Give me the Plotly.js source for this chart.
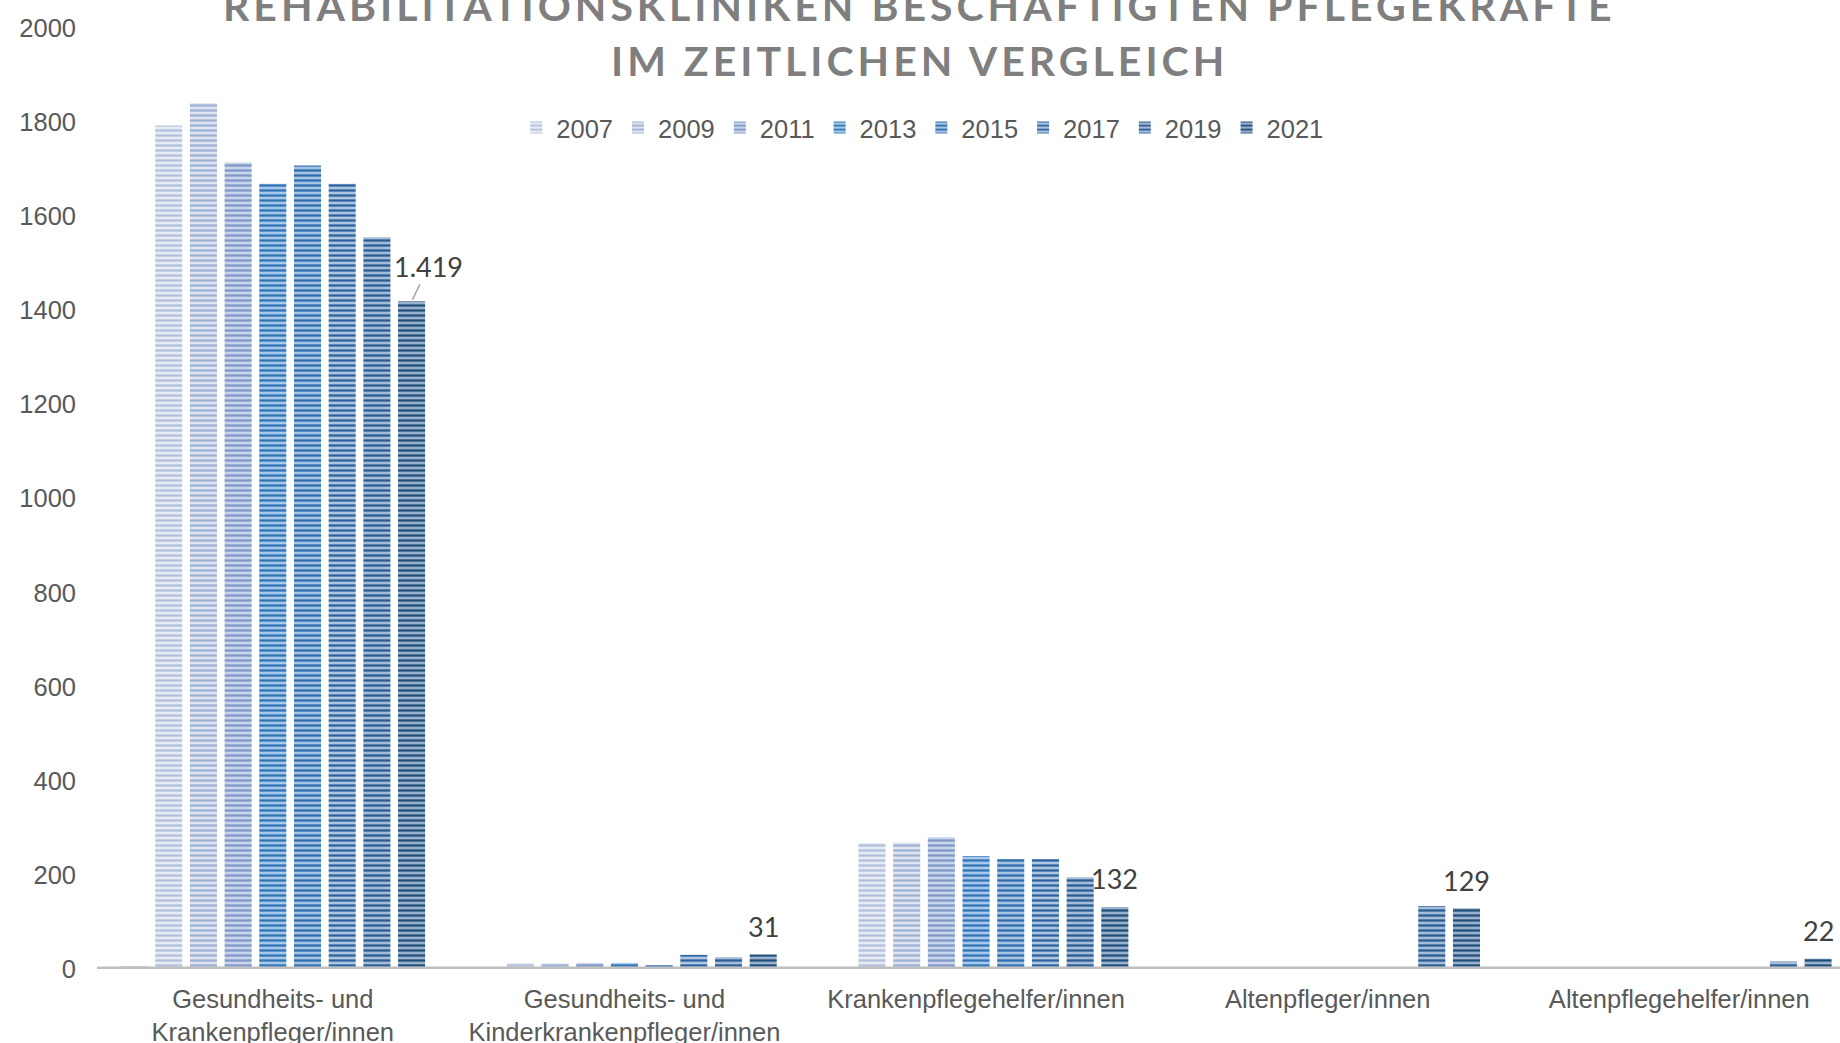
<!DOCTYPE html>
<html>
<head>
<meta charset="utf-8">
<script src="https://cdn.plot.ly/plotly-3.0.1.min.js"></script>
<style>
  html, body { margin: 0; padding: 0; background: #ffffff; }
  #chart { width: 1840px; height: 1043px; }
  g.annotation[data-index="0"] text, g.annotation[data-index="1"] text { letter-spacing: 4px; }
</style>
</head>
<body>
<div id="chart"></div>
<script>
// ---- data ----
const categories = [
  "Gesundheits- und<br>Krankenpfleger/innen",
  "Gesundheits- und<br>Kinderkrankenpfleger/innen",
  "Krankenpflegehelfer/innen",
  "Altenpfleger/innen",
  "Altenpflegehelfer/innen"
];
const seriesNames = ["", "2007", "2009", "2011", "2013", "2015", "2017", "2019", "2021"];
const vHidden = [6, null, null, null, null];
const v2007 = [1793, 13, 268, null, null];
const v2009 = [1840, 12, 269, null, null];
const v2011 = [1714, 13, 280, null, null];
const v2013 = [1669, 13, 240, null, null];
const v2015 = [1708, 8, 234, null, null];
const v2017 = [1669, 30, 234, null, null];
const v2019 = [1555, 25, 195, 134, 16];
const v2021 = [1419, 31, 132, 129, 22];
const labelTexts = ["1.419", "31", "132", "129", "22"];
const yTicks = [0, 200, 400, 600, 800, 1000, 1200, 1400, 1600, 1800, 2000];
const titleLine1 = "REHABILITATIONSKLINIKEN BESCHÄFTIGTEN PFLEGEKRÄFTE";
const titleLine2 = "IM ZEITLICHEN VERGLEICH";

// ---- styles ----
const seriesValues = [vHidden, v2007, v2009, v2011, v2013, v2015, v2017, v2019, v2021];
const bgColors = ["#D0D0D0", "#E6EBF4", "#DDE4F0", "#C9D5EA", "#A9C7E8", "#A6C3E2", "#AEC6DF", "#A5BCD8", "#9AB1CD"];
const fgColors = ["#BDBDBD", "#B2C1DC", "#9DB0D5", "#7F98C8", "#2E75B6", "#2E6DAE", "#2B63A0", "#285C92", "#1F4E79"];

const BARGAP = 0.112;
const NS = seriesNames.length;

const traces = seriesValues.map((vals, i) => ({
  type: "bar",
  name: seriesNames[i],
  x: categories,
  y: vals,
  showlegend: i > 0,
  marker: {
    color: bgColors[i],
    line: { width: 0 },
    pattern: {
      shape: "-",
      fgcolor: fgColors[i],
      bgcolor: bgColors[i],
      size: 5,
      solidity: 0.45,
      fillmode: "replace"
    }
  },
  hoverinfo: "skip"
}));

// data labels for last series
const lastIdx = NS - 1;
const offset = (lastIdx - (NS - 1) / 2) * (1 - BARGAP) / NS;
const labelFont = { family: "Lato, 'Open Sans', sans-serif", size: 27, color: "#404040" };
const titleFont = { family: "Lato, sans-serif", size: 41, color: "#7F7F7F", weight: 700 };
const annotations = [
  { xref: "paper", yref: "paper", x: 0.472, y: 1.0234, xanchor: "center", yanchor: "middle",
    text: titleLine1, showarrow: false, font: titleFont },
  { xref: "paper", yref: "paper", x: 0.472, y: 0.965, xanchor: "center", yanchor: "middle",
    text: titleLine2, showarrow: false, font: titleFont }
];
v2021.forEach((v, k) => {
  if (k === 0) {
    annotations.push({
      x: k + offset, y: v, xref: "x", yref: "y",
      text: labelTexts[k], showarrow: true, arrowhead: 0, arrowwidth: 1.5,
      arrowcolor: "#A6A6A6", ax: 17, ay: -35, standoff: 2,
      font: labelFont
    });
  } else {
    annotations.push({
      x: k + offset, y: v, xref: "x", yref: "y",
      text: labelTexts[k], showarrow: false, yanchor: "middle", yshift: 28,
      font: labelFont
    });
  }
});

const layout = {
  width: 1840,
  height: 1043,
  margin: { l: 97, r: 0, t: 28, b: 74, pad: 0 },
  paper_bgcolor: "#ffffff",
  plot_bgcolor: "#ffffff",
  barmode: "group",
  bargap: BARGAP,
  bargroupgap: 0.22,
  font: { family: "'Liberation Sans', Arial, sans-serif", size: 25.5, color: "#595959" },
  showlegend: true,
  legend: {
    orientation: "h",
    x: 0.4735, xanchor: "center",
    y: 0.8937, yanchor: "middle",
    font: { family: "'Liberation Sans', Arial, sans-serif", size: 25.5, color: "#595959" },
    traceorder: "normal",
    bgcolor: "rgba(0,0,0,0)"
  },
  xaxis: {
    type: "category",
    range: [-0.5, 4.457],
    showgrid: false,
    showline: false,
    zeroline: false,
    ticks: "",
    ticklabelstandoff: 12,
    tickfont: { family: "'Liberation Sans', Arial, sans-serif", size: 25.5, color: "#595959" },
    fixedrange: true
  },
  yaxis: {
    range: [0, 2000],
    tickvals: yTicks,
    ticktext: yTicks.map(String),
    showgrid: false,
    showline: false,
    zeroline: false,
    ticks: "",
    ticklabelstandoff: 20,
    tickfont: { family: "'Liberation Sans', Arial, sans-serif", size: 25.5, color: "#595959" },
    fixedrange: true
  },
  shapes: [
    { type: "line", xref: "paper", yref: "y", x0: 0, x1: 1, y0: 0, y1: 0,
      line: { color: "#BFBFBF", width: 5 }, layer: "above" }
  ],
  annotations: annotations
};

Plotly.newPlot("chart", traces, layout, { displayModeBar: false, staticPlot: true });
</script>
</body>
</html>
